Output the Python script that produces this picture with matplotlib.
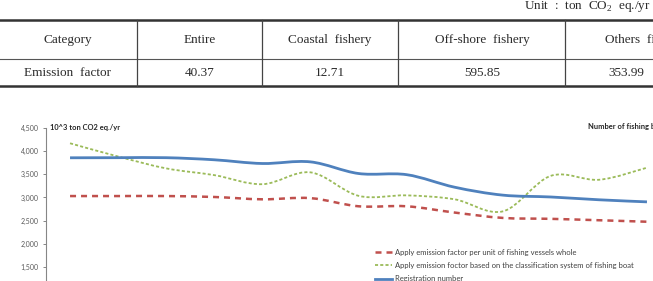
# Table of emission factors + emissions chart (cropped, as in the source figure)

import numpy as np
import matplotlib
matplotlib.use("Agg")
import matplotlib.pyplot as plt
from matplotlib.path import Path
from matplotlib.patches import PathPatch
from matplotlib.lines import Line2D
from matplotlib.ticker import FuncFormatter

plt.rcParams['mathtext.fontset'] = 'custom'
plt.rcParams['mathtext.rm'] = 'Liberation Serif'

# table data
headers = ["Category", "Entire", "Coastal  fishery", "Off-shore  fishery", "Others  fishery"]
factors = ["Emission  factor", "40.37", "12.71", "595.85", "353.99"]

# chart data (13 years)
years = list(range(2000, 2013))
per_unit = [3030, 3030, 3030, 3010, 2960, 2985, 2810, 2810, 2675, 2560, 2540, 2510, 2478]
by_class = [4165, 3880, 3625, 3480, 3285, 3540, 3035, 3045, 2960, 2700, 3465, 3380, 3640]
registered = [3853, 3855, 3855, 3810, 3730, 3765, 3515, 3490, 3220, 3050, 3010, 2950, 2905]
labels = ["Apply emission factor per unit of fishing vessels whole",
          "Apply emission foctor based on the classification system of fishing boat",
          "Registration number"]

W, H = 653, 281
fig = plt.figure(figsize=(W/100, H/100), dpi=100)

# overlay in pixel coordinates for the table and free text
tax = fig.add_axes([0, 0, 1, 1])
tax.set_xlim(0, W)
tax.set_ylim(H, 0)
tax.axis('off')

serif = 'Liberation Serif'
tc = '#2b2b2b'
tax.text(524, 7, "Unit  :  ton  CO$_2$  eq./yr", family=serif, fontsize=9.5,
         color=tc, ha='left', va='center')
tax.plot([0, W], [20, 20], color='#333333', lw=1.8)
tax.plot([0, W], [59, 59], color='#555555', lw=0.8)
tax.plot([0, W], [86, 86], color='#333333', lw=1.8)
for xv in [137, 262, 398, 565]:
    tax.plot([xv, xv], [20, 86], color='#444444', lw=0.9)

centers = [68, 200, 330, 482]
for i, c in enumerate(centers):
    tax.text(c, 40, headers[i], family=serif, fontsize=9.5, color=tc, ha='center', va='center')
    tax.text(c, 73, factors[i], family=serif, fontsize=9.5, color=tc, ha='center', va='center')
tax.text(605, 40, headers[4], family=serif, fontsize=9.5, color=tc, ha='left', va='center')
tax.text(608, 73, factors[4], family=serif, fontsize=9.5, color=tc, ha='left', va='center')

# chart axes: y from 0 to 4500, bottom part is cut off
top_px, step_px = 127.7, 23.25
h_px = 9 * step_px
ax = fig.add_axes([46/W, (H - top_px - h_px)/H, 625/W, h_px/H])
ax.patch.set_alpha(0)
ax.set_xlim(-0.5, 12.5)
ax.set_ylim(0, 4500)
ax.set_yticks(np.arange(0, 4501, 500))
ax.yaxis.set_major_formatter(FuncFormatter(lambda v, p: f"{int(v):,}"))
ax.set_xticks([])
for s in ['top', 'right', 'bottom']:
    ax.spines[s].set_visible(False)
ax.spines['left'].set_color('#868686')
ax.spines['left'].set_linewidth(0.8)
ax.tick_params(axis='y', length=2.2, width=0.7, color='#868686', pad=3.2,
               labelsize=5, labelcolor='#595959')
for t in ax.get_yticklabels():
    t.set_family('Lato')


def smooth_path(xs, ys):
    # Excel-like smoothed line: cubic Bezier through every point
    xs = np.asarray(xs, float)
    ys = np.asarray(ys, float)
    pts = np.column_stack([xs, ys])
    verts = [pts[0]]
    codes = [Path.MOVETO]
    n = len(pts)
    for i in range(n - 1):
        p0 = pts[i - 1] if i > 0 else pts[i]
        p1 = pts[i]
        p2 = pts[i + 1]
        p3 = pts[i + 2] if i + 2 < n else pts[i + 1]
        c1 = p1 + (p2 - p0) / 6
        c2 = p2 - (p3 - p1) / 6
        verts += [c1, c2, p2]
        codes += [Path.CURVE4] * 3
    return Path(verts, codes)


xi = np.arange(len(years))
series = [
    (per_unit, '#C0504D', 1.8, (0, (2.4, 2.0))),
    (by_class, '#9BBB59', 1.3, (0, (1.7, 1.2))),
    (registered, '#4F81BD', 2.0, '-'),
]
handles = []
for vals, col, lw, ls in series:
    ax.add_patch(PathPatch(smooth_path(xi, vals), facecolor='none', edgecolor=col,
                           lw=lw, linestyle=ls, capstyle='butt'))
    handles.append(Line2D([], [], color=col, lw=lw, linestyle=ls))

tax.text(50, 127.5, "10^3 ton CO2 eq./yr", family='Lato', fontweight='bold',
         fontsize=5.4, color='#262626', ha='left', va='center')
tax.text(588, 127, "Number of fishing boats", family='Lato', fontweight='bold',
         fontsize=5.4, color='#262626', ha='left', va='center')

tax.legend(handles, labels, loc='upper left', bbox_to_anchor=(375, 248.5),
           bbox_transform=tax.transData, frameon=False, borderpad=0, borderaxespad=0,
           prop={'family': 'Lato', 'size': 5.5}, labelcolor='#404040',
           handlelength=2.2, handletextpad=0.45, labelspacing=0.85)

fig.savefig("out.png", dpi=100)
